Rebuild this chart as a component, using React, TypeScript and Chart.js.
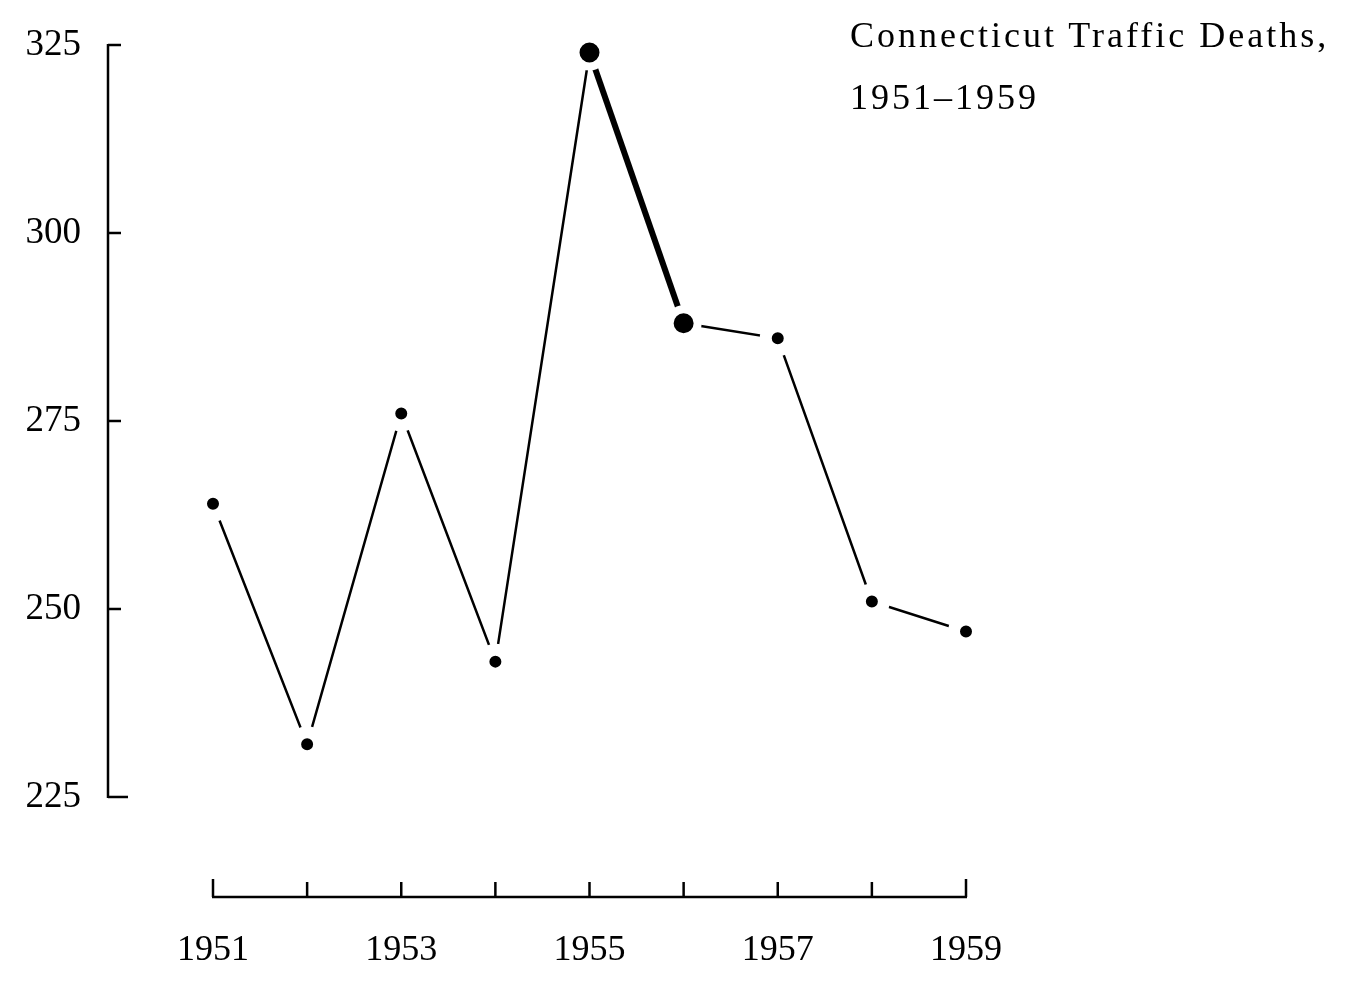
import React, { useEffect, useRef } from "react";
import { Chart, registerables } from "chart.js";

Chart.register(...registerables);

const years = ["1951", "1952", "1953", "1954", "1955", "1956", "1957", "1958", "1959"];
const deaths = [264, 232, 276, 243, 324, 288, 286, 251, 247];
const yTickValues = [225, 250, 275, 300, 325];
const highlighted = [4, 5];
const titleLines = ["Connecticut Traffic Deaths,", "1951–1959"];

const FONT = '"Liberation Serif", "DejaVu Serif", serif';

const rangeFrame = {
  id: "rangeFrame",
  afterDraw(chart: any) {
    const { ctx, chartArea } = chart;
    const xs = chart.scales.x;
    const ys = chart.scales.y;
    ctx.save();
    ctx.strokeStyle = "#000";
    ctx.lineWidth = 2.5;
    ctx.lineCap = "butt";
    // y axis range frame
    const ax = chartArea.left - 105;
    const yTop = ys.getPixelForValue(yTickValues[yTickValues.length - 1]);
    const yBot = ys.getPixelForValue(yTickValues[0]);
    ctx.beginPath();
    ctx.moveTo(ax, yTop - 1);
    ctx.lineTo(ax, yBot + 1);
    ctx.stroke();
    yTickValues.forEach((v, i) => {
      const py = ys.getPixelForValue(v);
      const len = i === 0 ? 20 : 13;
      ctx.beginPath();
      ctx.moveTo(ax, py);
      ctx.lineTo(ax + len, py);
      ctx.stroke();
    });
    // x axis range frame
    const by = chartArea.bottom;
    const x0 = xs.getPixelForValue(0);
    const x1 = xs.getPixelForValue(years.length - 1);
    ctx.beginPath();
    ctx.moveTo(x0 - 1, by);
    ctx.lineTo(x1 + 1, by);
    ctx.stroke();
    years.forEach((_, i) => {
      const px = xs.getPixelForValue(i);
      const len = i === 0 || i === years.length - 1 ? 18 : 15;
      ctx.beginPath();
      ctx.moveTo(px, by);
      ctx.lineTo(px, by - len);
      ctx.stroke();
    });
    ctx.restore();
  },
};

export default function App() {
  const ref = useRef<HTMLCanvasElement | null>(null);

  useEffect(() => {
    if (!ref.current) return;
    Chart.defaults.font.family = FONT;
    Chart.defaults.color = "#000";
    const chart = new Chart(ref.current, {
      type: "line",
      data: {
        labels: years,
        datasets: [
          {
            label: "Connecticut Traffic Deaths",
            data: deaths,
            borderColor: "#000",
            borderWidth: 2.5,
            clip: false as any,
            segment: {
              borderWidth: (c: any) => (c.p0DataIndex === 4 ? 6 : 2.5),
            },
            pointRadius: (c: any) => (highlighted.includes(c.dataIndex) ? 14 : 12),
            pointBorderWidth: (c: any) => (highlighted.includes(c.dataIndex) ? 8 : 12),
            pointBackgroundColor: "#000",
            pointBorderColor: "#fff",
            pointHoverRadius: 0,
            tension: 0,
          },
        ],
      },
      options: {
        animation: false,
        responsive: false,
        maintainAspectRatio: false,
        events: [],
        layout: { padding: { top: 45, right: 384, bottom: 0, left: 0 } },
        plugins: {
          legend: { display: false },
          tooltip: { enabled: false },
          title: { display: false },
        },
        scales: {
          x: {
            type: "category",
            offset: false,
            grid: { display: false, drawTicks: true, tickLength: 32 },
            border: { display: false },
            afterFit: (scale: any) => {
              scale.height = 85;
            },
            ticks: {
              padding: 0,
              autoSkip: false,
              maxRotation: 0,
              font: { size: 36 },
              callback: (_v: any, i: number) => (i % 2 === 0 ? years[i] : ""),
            },
          },
          y: {
            type: "linear",
            min: 211.7,
            max: 325,
            grid: { display: false, drawTicks: true, tickLength: 132 },
            border: { display: false },
            afterBuildTicks: (scale: any) => {
              scale.ticks = yTickValues.map((v) => ({ value: v }));
            },
            afterFit: (scale: any) => {
              scale.width = 213;
            },
            ticks: {
              padding: 0,
              font: { size: 37 },
              callback: (v: any) => String(v),
            },
          },
        },
      },
      plugins: [rangeFrame],
    });
    return () => chart.destroy();
  }, []);

  return (
    <div style={{ position: "absolute", left: 0, top: 0, width: 1350, height: 982, background: "#fff" }}>
      <canvas ref={ref} width={1350} height={982} style={{ display: "block" }} />
      <div
        style={{
          position: "absolute",
          left: 850,
          top: 4,
          fontFamily: FONT,
          fontSize: 36,
          lineHeight: "62px",
          color: "#000",
          letterSpacing: 3,
          whiteSpace: "nowrap",
        }}
      >
        {titleLines.map((t) => (
          <div key={t}>{t}</div>
        ))}
      </div>
    </div>
  );
}
